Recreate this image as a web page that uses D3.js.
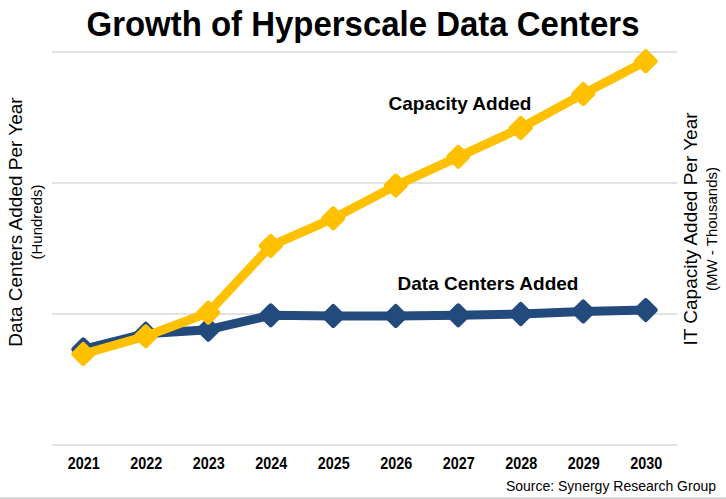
<!DOCTYPE html>
<html>
<head>
<meta charset="utf-8">
<script src="https://cdn.jsdelivr.net/npm/d3@7"></script>
<style>
  body { margin: 0; background: #fff; }
  text { font-family: "Liberation Sans", Arial, sans-serif; }
</style>
</head>
<body>
<div id="chart"></div>
<script>
const years = ["2021", "2022", "2023", "2024", "2025", "2026", "2027", "2028", "2029", "2030"];
// data centers added per year (hundreds)
const dataCenters = [0.73, 0.85, 0.88, 0.99, 0.985, 0.985, 0.99, 1.0, 1.02, 1.03];
// IT capacity added per year (MW - thousands)
const capacity = [0.695, 0.83, 1.01, 1.52, 1.73, 1.98, 2.20, 2.42, 2.68, 2.93];
const gridValues = [0, 1, 2, 3];

const width = 726;
const height = 499;
const margin = { top: 52, right: 49, bottom: 54, left: 52 };

const svg = d3.select("#chart").append("svg")
    .attr("width", width)
    .attr("height", height);

const x = d3.scalePoint()
    .domain(years)
    .range([margin.left, width - margin.right])
    .padding(0.5);

const yLeft = d3.scaleLinear()
    .domain([0, 3])
    .range([height - margin.bottom, margin.top]);

const yRight = d3.scaleLinear()
    .domain([0, 3])
    .range([height - margin.bottom, margin.top]);

// gridlines
svg.append("g")
    .selectAll("line")
    .data(gridValues)
    .join("line")
    .attr("x1", margin.left)
    .attr("x2", width - margin.right)
    .attr("y1", d => yLeft(d))
    .attr("y2", d => yLeft(d))
    .attr("stroke", "#d9d9d9")
    .attr("stroke-width", 1.5);

// x axis labels (slightly condensed like the original)
const xAxis = d3.axisBottom(x).tickSize(0).tickPadding(12);
svg.append("g")
    .attr("transform", `translate(0, ${height - margin.bottom})`)
    .call(xAxis)
    .call(g => g.select(".domain").remove())
    .selectAll("text")
    .attr("font-family", "Liberation Sans, Arial, sans-serif")
    .attr("font-size", 16.5)
    .attr("font-weight", "bold")
    .attr("textLength", 32)
    .attr("lengthAdjust", "spacingAndGlyphs")
    .attr("fill", "#000");

function drawSeries(values, yScale, color) {
    const line = d3.line()
        .x((d, i) => x(years[i]))
        .y(d => yScale(d));

    svg.append("path")
        .datum(values)
        .attr("d", line)
        .attr("fill", "none")
        .attr("stroke", color)
        .attr("stroke-width", 9)
        .attr("stroke-linejoin", "round");

    // rounded diamonds: squares turned 45 degrees
    svg.append("g")
        .selectAll("path")
        .data(values)
        .join("path")
        .attr("transform", (d, i) => `translate(${x(years[i])}, ${yScale(d)}) rotate(45)`)
        .attr("d", d3.symbol().type(d3.symbolSquare).size(180))
        .attr("fill", color)
        .attr("stroke", color)
        .attr("stroke-width", 5)
        .attr("stroke-linejoin", "round");
}

drawSeries(dataCenters, yLeft, "#234a7c");
drawSeries(capacity, yRight, "#ffc000");

// title
svg.append("text")
    .attr("x", 363)
    .attr("y", 36)
    .attr("text-anchor", "middle")
    .attr("font-size", 35)
    .attr("font-weight", "bold")
    .attr("textLength", 553)
    .attr("lengthAdjust", "spacingAndGlyphs")
    .text("Growth of Hyperscale Data Centers");

// series annotations
svg.append("text")
    .attr("x", 460)
    .attr("y", 110)
    .attr("text-anchor", "middle")
    .attr("font-size", 19)
    .attr("font-weight", "bold")
    .text("Capacity Added");

svg.append("text")
    .attr("x", 488)
    .attr("y", 290)
    .attr("text-anchor", "middle")
    .attr("font-size", 19)
    .attr("font-weight", "bold")
    .text("Data Centers Added");

// left axis title
const leftTitle = svg.append("g")
    .attr("transform", "translate(0, 222) rotate(-90)");
leftTitle.append("text")
    .attr("x", 0).attr("y", 22)
    .attr("text-anchor", "middle")
    .attr("font-size", 19)
    .text("Data Centers Added Per Year");
leftTitle.append("text")
    .attr("x", 0).attr("y", 42)
    .attr("text-anchor", "middle")
    .attr("font-size", 15)
    .text("(Hundreds)");

// right axis title
const rightTitle = svg.append("g")
    .attr("transform", "translate(0, 229) rotate(-90)");
rightTitle.append("text")
    .attr("x", 0).attr("y", 697)
    .attr("text-anchor", "middle")
    .attr("font-size", 19)
    .text("IT Capacity Added Per Year");
rightTitle.append("text")
    .attr("x", 0).attr("y", 717)
    .attr("text-anchor", "middle")
    .attr("font-size", 15)
    .text("(MW - Thousands)");

// source
svg.append("text")
    .attr("x", 716)
    .attr("y", 491)
    .attr("text-anchor", "end")
    .attr("font-size", 14)
    .text("Source: Synergy Research Group");

svg.append("line")
    .attr("x1", 0).attr("x2", width)
    .attr("y1", height - 1).attr("y2", height - 1)
    .attr("stroke", "#d9d9d9")
    .attr("stroke-width", 2);
</script>
</body>
</html>
